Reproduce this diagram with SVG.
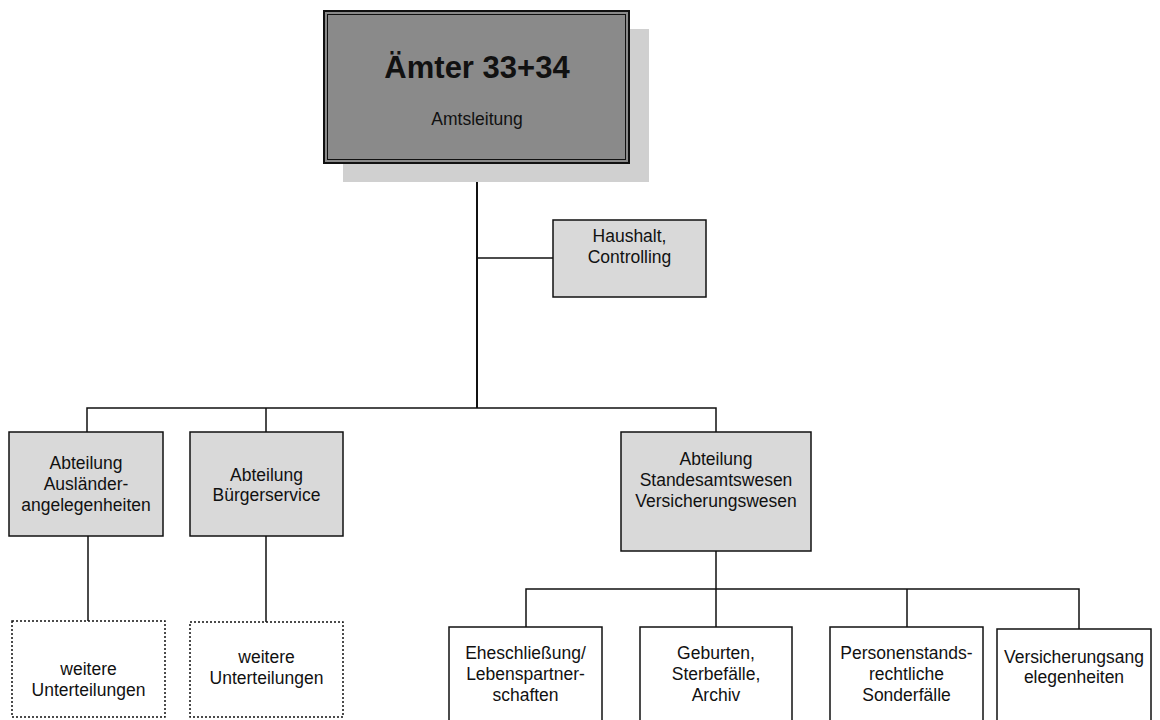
<svg xmlns="http://www.w3.org/2000/svg" width="1160" height="720" viewBox="0 0 1160 720">
<style>
text{font-family:"Liberation Sans",Arial,sans-serif;font-size:17.5px;fill:#111;text-anchor:middle}
.title{font-size:31px;font-weight:bold}
.box{fill:#d9d9d9;stroke:#111;stroke-width:1.5}
.wbox{fill:#fff;stroke:#111;stroke-width:1.5}
.dbox{fill:#fff;stroke:#111;stroke-width:1.5;stroke-dasharray:2 2}
.conn{fill:none;stroke:#111;stroke-width:1.5}
</style>
<rect width="1160" height="720" fill="#fff"/>
<g id="connectors">
<path class="conn" d="M477 163V408" style="stroke-width:2"/>
<path class="conn" d="M477 258H553"/>
<path class="conn" d="M87 432V408H716V432M266 408V432"/>
<path class="conn" d="M88 536V621M266 536V622"/>
<path class="conn" d="M716 551V589M526 627V589H1079V629M716 589V627M907 589V627"/>
</g>
<g id="amt">
<rect x="343" y="29" width="306" height="153" fill="#d0d0d0"/>
<rect x="324" y="11" width="305" height="152" fill="#8a8a8a" stroke="#111" stroke-width="2"/>
<rect x="327.5" y="14.5" width="298" height="145" fill="none" stroke="#111" stroke-width="1"/>
<text class="title" x="477" y="78">Ämter 33+34</text>
<text x="477" y="125">Amtsleitung</text>
</g>
<g id="haushalt">
<rect class="box" x="553" y="220" width="153" height="77"/>
<text x="629.5" y="242">Haushalt,</text>
<text x="629.5" y="263">Controlling</text>
</g>
<g id="auslaender">
<rect class="box" x="9" y="432" width="154" height="104"/>
<text x="86" y="469">Abteilung</text>
<text x="86" y="490">Ausländer-</text>
<text x="86" y="511">angelegenheiten</text>
</g>
<g id="buergerservice">
<rect class="box" x="190" y="432" width="153" height="104"/>
<text x="266.5" y="481">Abteilung</text>
<text x="266.5" y="501">Bürgerservice</text>
</g>
<g id="standesamt">
<rect class="box" x="621" y="432" width="190" height="119"/>
<text x="716" y="465">Abteilung</text>
<text x="716" y="486">Standesamtswesen</text>
<text x="716" y="507">Versicherungswesen</text>
</g>
<g id="weitere1">
<rect class="dbox" x="12" y="621" width="153" height="96"/>
<text x="88.5" y="675">weitere</text>
<text x="88.5" y="696">Unterteilungen</text>
</g>
<g id="weitere2">
<rect class="dbox" x="190" y="622" width="153" height="95"/>
<text x="266.5" y="663">weitere</text>
<text x="266.5" y="684">Unterteilungen</text>
</g>
<g id="ehe">
<rect class="wbox" x="449" y="627" width="153" height="100"/>
<text x="525.5" y="659">Eheschließung/</text>
<text x="525.5" y="680">Lebenspartner-</text>
<text x="525.5" y="701">schaften</text>
</g>
<g id="geburten">
<rect class="wbox" x="640" y="627" width="152" height="100"/>
<text x="716" y="659">Geburten,</text>
<text x="716" y="680">Sterbefälle,</text>
<text x="716" y="701">Archiv</text>
</g>
<g id="personenstand">
<rect class="wbox" x="830" y="627" width="153" height="100"/>
<text x="906.5" y="659">Personenstands-</text>
<text x="906.5" y="680">rechtliche</text>
<text x="906.5" y="701">Sonderfälle</text>
</g>
<g id="versicherung">
<rect class="wbox" x="997" y="629" width="154" height="100"/>
<text x="1074" y="663">Versicherungsang</text>
<text x="1074" y="683">elegenheiten</text>
</g>
</svg>
